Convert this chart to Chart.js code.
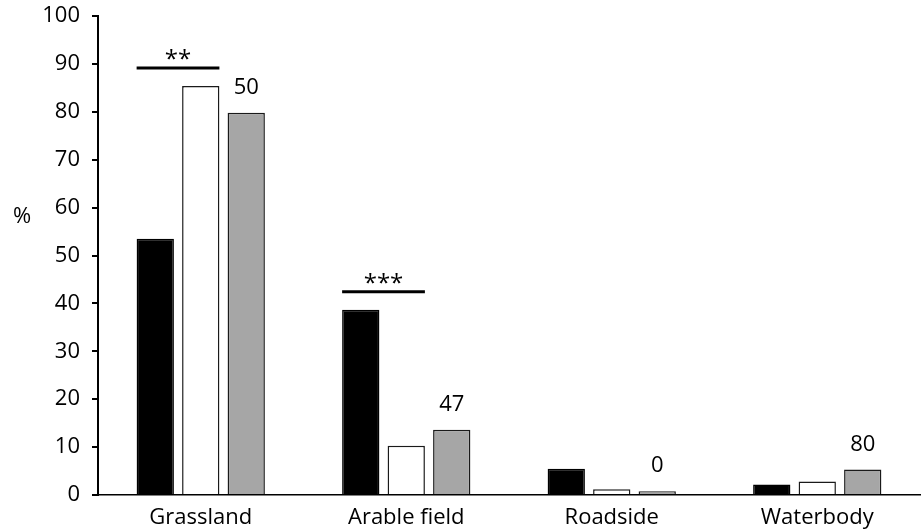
<!DOCTYPE html>
<html>
<head>
<meta charset="utf-8">
<script src="https://cdn.jsdelivr.net/npm/chart.js@4.4.1/dist/chart.umd.min.js"></script>
<style>
  html, body { margin: 0; padding: 0; background: #fff; }
  canvas { display: block; }
</style>
</head>
<body>
<canvas id="habitatChart" width="922" height="532"></canvas>
<script>
// données
const categories = ["Grassland", "Arable field", "Roadside", "Waterbody"];
const blackValues = [53.5, 38.7, 5.5, 2.2];
const whiteValues = [85.4, 10.3, 1.2, 2.8];
const greyValues = [79.8, 13.6, 0.8, 5.3];
const sampleSizes = ["50", "47", "0", "80"];
const significance = ["**", "***", "", ""];
const yMin = 0;
const yMax = 100;
const yStep = 10;

const FONT = "'Open Sans', 'Noto Sans', sans-serif";

// textes ajoutés : n au-dessus des barres grises, barres de significativité, "%"
const annotations = {
  id: "annotations",
  afterDatasetsDraw(chart) {
    const ctx = chart.ctx;
    const yScale = chart.scales.y;
    const blackMeta = chart.getDatasetMeta(0);
    const whiteMeta = chart.getDatasetMeta(1);
    const greyMeta = chart.getDatasetMeta(2);
    ctx.save();
    ctx.fillStyle = "#000";
    ctx.strokeStyle = "#000";
    ctx.font = "22px " + FONT;
    ctx.textAlign = "center";
    ctx.textBaseline = "alphabetic";

    sampleSizes.forEach((n, i) => {
      const bar = greyMeta.data[i];
      ctx.fillText(n, bar.x, bar.y - 19);
    });

    ctx.font = "24px " + FONT;
    significance.forEach((s, i) => {
      if (!s) return;
      const b = blackMeta.data[i];
      const w = whiteMeta.data[i];
      const lineY = Math.min(b.y, w.y) - 18;
      const x0 = b.x - b.width / 2;
      const x1 = w.x + w.width / 2;
      ctx.lineWidth = 3;
      ctx.beginPath();
      ctx.moveTo(x0, lineY);
      ctx.lineTo(x1, lineY);
      ctx.stroke();
      ctx.fillText(s, (x0 + x1) / 2, lineY - 1);
    });

    ctx.font = "22px " + FONT;
    ctx.textAlign = "left";
    ctx.textBaseline = "middle";
    ctx.fillText("%", 13, yScale.getPixelForValue(58));
    ctx.restore();
  }
};

new Chart(document.getElementById("habitatChart"), {
  type: "bar",
  data: {
    labels: categories,
    datasets: [
      { data: blackValues, backgroundColor: "#000", borderColor: "#000", borderWidth: 1.5 },
      { data: whiteValues, backgroundColor: "#fff", borderColor: "#1a1a1a", borderWidth: 1.5 },
      { data: greyValues, backgroundColor: "#a6a6a6", borderColor: "#1a1a1a", borderWidth: 1.5 }
    ]
  },
  options: {
    responsive: false,
    animation: false,
    categoryPercentage: 0.664,
    barPercentage: 0.82,
    layout: { padding: { top: 16, right: 2, left: 0, bottom: 0 } },
    plugins: {
      legend: { display: false },
      tooltip: { enabled: false }
    },
    scales: {
      x: {
        grid: { display: false, drawTicks: false },
        border: { display: true, color: "#000", width: 1.5 },
        ticks: { color: "#000", padding: 10, font: { family: FONT, size: 22 } },
        afterFit: (scale) => { scale.height = 37; scale.paddingLeft = 0; scale.paddingRight = 0; }
      },
      y: {
        min: yMin,
        max: yMax,
        grid: { drawOnChartArea: false, drawTicks: true, tickLength: 6, color: "#000", lineWidth: 2 },
        border: { display: true, color: "#000", width: 2 },
        ticks: { stepSize: yStep, color: "#000", padding: 12, font: { family: FONT, size: 22 } },
        afterFit: (scale) => { scale.width = 98; scale.paddingTop = 0; scale.paddingBottom = 0; }
      }
    }
  },
  plugins: [annotations]
});
</script>
</body>
</html>
